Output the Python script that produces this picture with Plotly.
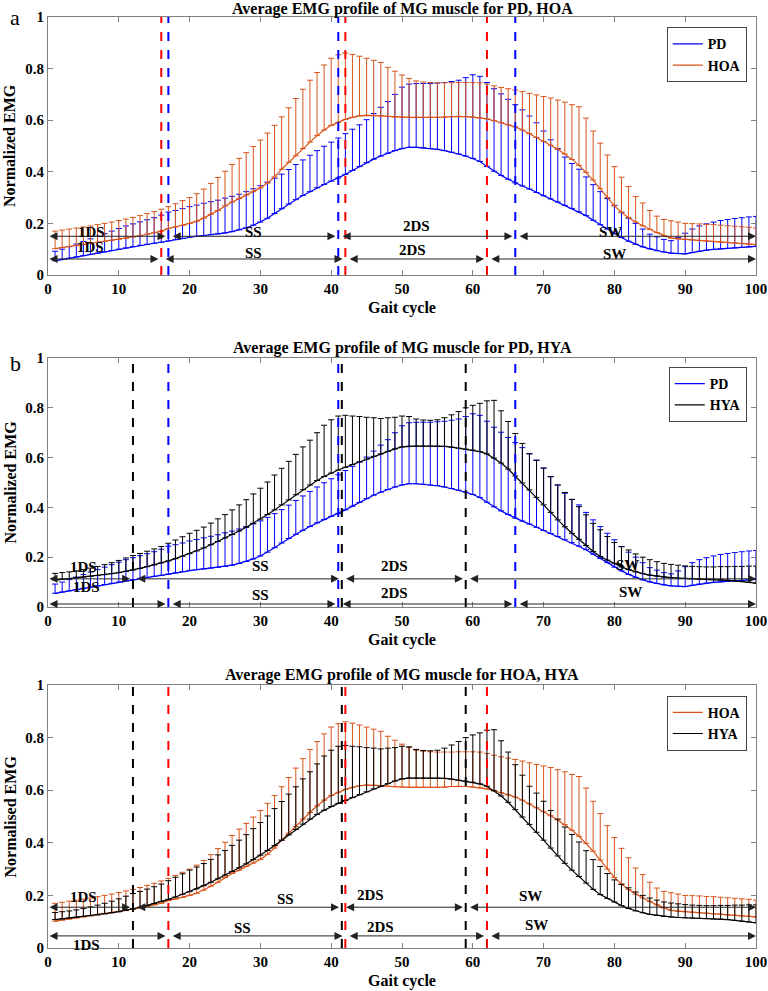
"""Average EMG profile of MG muscle: PD vs HOA vs HYA, three stacked panels."""

import plotly.graph_objects as go

# gait cycle samples (%)
GAIT = list(range(1, 101))

# Parkinson's disease group: mean and top of +SD bar
PD_MEAN = [
    0.055, 0.060, 0.065, 0.070, 0.075, 0.080, 0.085, 0.090, 0.095, 0.100,
    0.105, 0.110, 0.115, 0.119, 0.123, 0.127, 0.132, 0.137, 0.142, 0.147,
    0.150, 0.153, 0.156, 0.159, 0.163, 0.168, 0.175, 0.183, 0.193, 0.205,
    0.220, 0.238, 0.257, 0.275, 0.292, 0.308, 0.323, 0.338, 0.351, 0.364,
    0.376, 0.390, 0.405, 0.420, 0.435, 0.449, 0.461, 0.472, 0.482, 0.490,
    0.495, 0.495, 0.493, 0.490, 0.487, 0.482, 0.476, 0.469, 0.461, 0.452,
    0.440, 0.421, 0.402, 0.386, 0.371, 0.357, 0.345, 0.333, 0.320, 0.307,
    0.295, 0.283, 0.270, 0.258, 0.245, 0.230, 0.212, 0.195, 0.178, 0.160,
    0.145, 0.131, 0.119, 0.109, 0.101, 0.094, 0.089, 0.085, 0.083, 0.082,
    0.087, 0.092, 0.096, 0.099, 0.101, 0.103, 0.105, 0.107, 0.109, 0.111,
]
PD_UPPER = [
    0.092, 0.100, 0.110, 0.120, 0.130, 0.140, 0.150, 0.160, 0.170, 0.180,
    0.190, 0.198, 0.206, 0.214, 0.222, 0.232, 0.244, 0.250, 0.257, 0.265,
    0.271, 0.278, 0.284, 0.290, 0.298, 0.305, 0.313, 0.323, 0.334, 0.346,
    0.360, 0.375, 0.391, 0.409, 0.428, 0.446, 0.464, 0.482, 0.499, 0.515,
    0.531, 0.548, 0.565, 0.582, 0.602, 0.626, 0.650, 0.672, 0.700, 0.728,
    0.740, 0.742, 0.742, 0.742, 0.744, 0.746, 0.750, 0.755, 0.765, 0.776,
    0.770, 0.746, 0.722, 0.702, 0.681, 0.660, 0.640, 0.616, 0.590, 0.558,
    0.524, 0.490, 0.457, 0.432, 0.410, 0.380, 0.350, 0.323, 0.296, 0.270,
    0.243, 0.220, 0.200, 0.178, 0.158, 0.148, 0.138, 0.133, 0.145, 0.162,
    0.178, 0.190, 0.198, 0.205, 0.211, 0.215, 0.219, 0.222, 0.225, 0.227,
]

# healthy older adults
HOA_MEAN = [
    0.102, 0.106, 0.110, 0.114, 0.118, 0.122, 0.126, 0.130, 0.134, 0.138,
    0.142, 0.147, 0.152, 0.158, 0.164, 0.170, 0.180, 0.186, 0.192, 0.200,
    0.208, 0.220, 0.235, 0.250, 0.268, 0.283, 0.296, 0.310, 0.323, 0.337,
    0.356, 0.380, 0.410, 0.437, 0.462, 0.490, 0.515, 0.540, 0.562, 0.580,
    0.592, 0.603, 0.611, 0.617, 0.619, 0.619, 0.617, 0.615, 0.613, 0.612,
    0.611, 0.611, 0.611, 0.611, 0.611, 0.612, 0.614, 0.615, 0.614, 0.612,
    0.609, 0.605, 0.598, 0.590, 0.582, 0.574, 0.562, 0.548, 0.533, 0.518,
    0.503, 0.487, 0.469, 0.448, 0.425, 0.398, 0.368, 0.334, 0.300, 0.268,
    0.243, 0.222, 0.205, 0.190, 0.177, 0.164, 0.152, 0.143, 0.140, 0.138,
    0.136, 0.134, 0.132, 0.130, 0.128, 0.126, 0.124, 0.122, 0.120, 0.118,
]
HOA_UPPER = [
    0.170, 0.174, 0.178, 0.182, 0.186, 0.190, 0.195, 0.200, 0.205, 0.211,
    0.217, 0.223, 0.230, 0.238, 0.246, 0.255, 0.265, 0.276, 0.288, 0.300,
    0.315, 0.333, 0.355, 0.378, 0.402, 0.428, 0.452, 0.474, 0.498, 0.523,
    0.550, 0.580, 0.613, 0.648, 0.684, 0.720, 0.755, 0.785, 0.814, 0.840,
    0.853, 0.860, 0.855, 0.848, 0.840, 0.832, 0.824, 0.805, 0.790, 0.775,
    0.762, 0.752, 0.748, 0.746, 0.745, 0.745, 0.745, 0.746, 0.746, 0.746,
    0.745, 0.740, 0.733, 0.727, 0.722, 0.717, 0.711, 0.704, 0.698, 0.692,
    0.686, 0.678, 0.670, 0.660, 0.652, 0.608, 0.558, 0.511, 0.465, 0.420,
    0.379, 0.343, 0.304, 0.279, 0.250, 0.228, 0.215, 0.210, 0.205, 0.200,
    0.199, 0.198, 0.196, 0.195, 0.193, 0.191, 0.189, 0.187, 0.185, 0.182,
]

# healthy young adults
HYA_MEAN = [
    0.108, 0.111, 0.114, 0.117, 0.120, 0.123, 0.126, 0.130, 0.134, 0.138,
    0.143, 0.149, 0.155, 0.162, 0.169, 0.177, 0.185, 0.194, 0.204, 0.214,
    0.225, 0.237, 0.250, 0.263, 0.277, 0.291, 0.305, 0.320, 0.336, 0.353,
    0.371, 0.390, 0.410, 0.430, 0.451, 0.471, 0.490, 0.508, 0.524, 0.538,
    0.550, 0.561, 0.572, 0.583, 0.594, 0.605, 0.615, 0.625, 0.635, 0.643,
    0.646, 0.646, 0.646, 0.646, 0.646, 0.645, 0.642, 0.638, 0.634, 0.630,
    0.624, 0.615, 0.598, 0.578, 0.554, 0.526, 0.498, 0.470, 0.440, 0.410,
    0.380, 0.350, 0.322, 0.296, 0.272, 0.247, 0.223, 0.203, 0.188, 0.175,
    0.161, 0.150, 0.141, 0.134, 0.128, 0.124, 0.120, 0.118, 0.116, 0.115,
    0.114, 0.113, 0.112, 0.111, 0.110, 0.108, 0.105, 0.102, 0.099, 0.096,
]
HYA_UPPER = [
    0.135, 0.138, 0.141, 0.145, 0.150, 0.156, 0.163, 0.170, 0.178, 0.187,
    0.197, 0.207, 0.215, 0.224, 0.233, 0.243, 0.256, 0.269, 0.282, 0.296,
    0.308, 0.321, 0.337, 0.354, 0.371, 0.390, 0.410, 0.431, 0.454, 0.477,
    0.502, 0.530, 0.557, 0.585, 0.613, 0.643, 0.670, 0.700, 0.730, 0.752,
    0.767, 0.770, 0.767, 0.765, 0.762, 0.760, 0.757, 0.760, 0.762, 0.767,
    0.765, 0.755, 0.751, 0.750, 0.752, 0.760, 0.772, 0.785, 0.800, 0.810,
    0.818, 0.828, 0.830, 0.788, 0.745, 0.697, 0.657, 0.615, 0.589, 0.558,
    0.523, 0.490, 0.460, 0.432, 0.403, 0.370, 0.336, 0.310, 0.283, 0.259,
    0.242, 0.229, 0.213, 0.200, 0.190, 0.182, 0.175, 0.171, 0.168, 0.165,
    0.163, 0.162, 0.161, 0.161, 0.162, 0.162, 0.163, 0.163, 0.164, 0.164,
]

# gait-phase boundaries (% of cycle)
PD_PHASES = [17, 41, 66]
HOA_PHASES_A = [16, 42, 62]
HYA_PHASES = [12, 41.5, 59]
HOA_PHASES_C = [17, 42, 62]
PHASE_NAMES = ["1DS", "SS", "2DS", "SW"]

X_TICKS = [0, 10, 20, 30, 40, 50, 60, 70, 80, 90, 100]
Y_TICKS = [0, 0.2, 0.4, 0.6, 0.8, 1]

BLUE = "#0000ff"
ORANGE = "#d95319"
BLACK = "#000000"
RED = "#ff0000"
FONT = "Liberation Serif"

SERIES = {
    "PD": (PD_MEAN, PD_UPPER, BLUE),
    "HOA": (HOA_MEAN, HOA_UPPER, ORANGE),
    "HYA": (HYA_MEAN, HYA_UPPER, BLACK),
}

PLOT_W, PLOT_H = 708, 931  # px spanned by the plot areas

PANELS = [
    {
        "title": "Average EMG profile of MG muscle for PD, HOA",
        "ytitle": "Normalized EMG",
        "groups": ["PD", "HOA"],
        "domain": [0.7229, 1.0],
        "vlines": [(HOA_PHASES_A, RED), (PD_PHASES, BLUE)],
        "rows": [(PD_PHASES, 0.150), (HOA_PHASES_A, 0.062)],
        "labels": [
            [(6.2, 0.165), (29, 0.165), (52, 0.19), (79.5, 0.165)],
            [(6, 0.108), (29, 0.085), (51.5, 0.095), (80, 0.083)],
        ],
        "legend_y": 0.989,
        "tag": ("a", 1.0),
    },
    {
        "title": "Average EMG profile of MG muscle for PD, HYA",
        "ytitle": "Normalized EMG",
        "groups": ["PD", "HYA"],
        "domain": [0.3663, 0.6337],
        "vlines": [(HYA_PHASES, BLACK), (PD_PHASES, BLUE)],
        "rows": [(HYA_PHASES, 0.113), (PD_PHASES, 0.012)],
        "labels": [
            [(5, 0.16), (30, 0.165), (49, 0.165), (81.8, 0.169)],
            [(5.5, 0.082), (30, 0.05), (49, 0.056), (82.3, 0.059)],
        ],
        "legend_y": 0.624,
        "tag": ("b", 0.628),
    },
    {
        "title": "Average EMG profile of MG muscle for HOA, HYA",
        "ytitle": "Normalised EMG",
        "groups": ["HOA", "HYA"],
        "domain": [0.0, 0.2825],
        "vlines": [(HYA_PHASES, BLACK), (HOA_PHASES_C, RED)],
        "rows": [(HYA_PHASES, 0.155), (HOA_PHASES_C, 0.046)],
        "labels": [
            [(5, 0.195), (33.6, 0.185), (45.5, 0.2), (68.2, 0.198)],
            [(5.5, 0.011), (27.5, 0.075), (47, 0.08), (69, 0.088)],
        ],
        "legend_y": 0.271,
        "tag": None,
    },
]

fig = go.Figure()
annotations = []
shapes = []
layout_axes = {}
GAP = 0.4
TITLE_FONT = dict(family=FONT, size=16, color="black", weight="bold")

for i, panel in enumerate(PANELS):
    n = "" if i == 0 else str(i + 1)
    xa, ya = "x" + n, "y" + n
    legend_name = "legend" + n

    for name in panel["groups"]:
        mean, upper, color = SERIES[name]
        fig.add_trace(
            go.Scatter(
                x=GAIT,
                y=mean,
                name=name,
                mode="lines",
                line=dict(color=color, width=1.2),
                error_y=dict(
                    type="data",
                    symmetric=False,
                    array=[u - m for u, m in zip(upper, mean)],
                    arrayminus=[0] * len(mean),
                    color=color,
                    thickness=1,
                    width=3,
                ),
                xaxis=xa,
                yaxis=ya,
                legend=legend_name,
            )
        )

    for phases, color in panel["vlines"]:
        for p in phases:
            shapes.append(
                dict(
                    type="line", xref=xa, yref=ya, x0=p, x1=p, y0=0, y1=1,
                    line=dict(color=color, width=2, dash="dash"),
                )
            )

    # double-headed phase arrows
    for (phases, row_y), labels in zip(panel["rows"], panel["labels"]):
        bounds = [0] + phases + [100]
        for k in range(len(bounds) - 1):
            start = bounds[k] + (GAP if k > 0 else 0)
            end = bounds[k + 1] - (GAP if k < len(bounds) - 2 else 0)
            annotations.append(
                dict(
                    xref=xa, yref=ya, axref=xa, ayref=ya,
                    x=end, y=row_y, ax=start, ay=row_y,
                    text="", showarrow=True, arrowside="end+start",
                    arrowhead=2, startarrowhead=2,
                    arrowsize=1.6, startarrowsize=1.6,
                    arrowwidth=1, arrowcolor="#222222", standoff=0, startstandoff=0,
                )
            )
        for label, (lx, ly) in zip(PHASE_NAMES, labels):
            annotations.append(
                dict(
                    xref=xa, yref=ya, x=lx, y=ly, text=label, showarrow=False,
                    font=dict(family=FONT, size=15, color="black", weight="bold"),
                )
            )

    bottom, top = panel["domain"]
    annotations.append(
        dict(
            xref="paper", yref="paper", x=0.5,
            y=top + (8 if i == 0 else 10) / PLOT_H,
            yanchor="middle", text=panel["title"], showarrow=False,
            font=TITLE_FONT,
        )
    )
    annotations.append(
        dict(
            xref="paper", yref="paper", x=0.5, y=bottom - 33 / PLOT_H,
            yanchor="middle", text="Gait cycle", showarrow=False, font=TITLE_FONT,
        )
    )
    annotations.append(
        dict(
            xref="paper", yref="paper", x=-38 / PLOT_W, y=(bottom + top) / 2,
            xanchor="center", yanchor="middle", textangle=-90,
            text=panel["ytitle"], showarrow=False, font=TITLE_FONT,
        )
    )
    if panel["tag"]:
        letter, ty = panel["tag"]
        annotations.append(
            dict(
                xref="paper", yref="paper", x=-33 / PLOT_W, y=ty,
                xanchor="center", yanchor="middle",
                text=letter, showarrow=False,
                font=dict(family=FONT, size=22, color="black"),
            )
        )

    axis_common = dict(
        showline=True, linecolor="#808080", linewidth=1, mirror="ticks",
        ticks="inside", ticklen=5, tickcolor="#808080",
        showgrid=False, zeroline=False, automargin=False,
        tickfont=dict(family=FONT, size=15, color="black", weight="bold"),
    )
    layout_axes["xaxis" + n] = dict(
        axis_common, domain=[0, 1], range=[0, 100], tickvals=X_TICKS, anchor=ya,
    )
    layout_axes["yaxis" + n] = dict(
        axis_common, domain=panel["domain"], range=[0, 1], tickvals=Y_TICKS,
        anchor=xa,
    )
    layout_axes[legend_name] = dict(
        x=0.987, y=panel["legend_y"], xanchor="right", yanchor="top",
        bgcolor="white", bordercolor="#444444", borderwidth=1,
        font=dict(family=FONT, size=14, color="black", weight="bold"),
        itemwidth=30, tracegroupgap=0,
    )

fig.update_layout(
    width=768,
    height=991,
    margin=dict(l=48, r=12, t=17, b=43),
    paper_bgcolor="white",
    plot_bgcolor="white",
    shapes=shapes,
    annotations=annotations,
    showlegend=True,
    **layout_axes,
)

# drop the browser's default body margin so the figure sits at the page origin
fig.write_html(
    "out.html",
    config={"displayModeBar": False},
    post_script="document.body.style.margin = '0';",
)
